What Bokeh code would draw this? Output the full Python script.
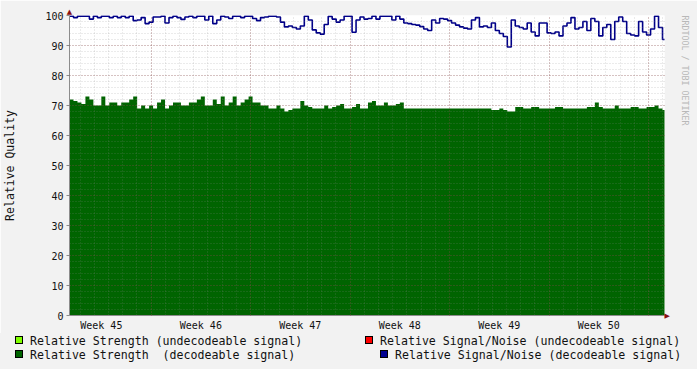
import numpy as np
from bokeh.plotting import figure
from bokeh.layouts import column
from bokeh.models import Range1d, FixedTicker, LinearAxis, Div
from bokeh.embed import file_html
from bokeh.resources import INLINE

# ---------------- data ----------------
SAMPLE_STEP = 0.28          # days per sample
strength = [
    72, 71.5, 71, 70.5, 73, 72, 70, 70, 73, 70,
    71, 71, 70, 71, 71, 72, 73, 69, 70, 69,
    70, 69, 71, 72, 69, 70, 71, 71, 70, 70,
    71, 71, 72, 73, 70, 70, 72, 70.5, 73, 70,
    71, 73, 70, 71, 72, 73, 71, 71, 70, 70,
    69, 69, 70, 69, 68, 68.5, 69, 69, 71.5, 70,
    69.5, 69, 69, 69, 70, 69, 69.5, 70, 70.5, 69,
    69, 69.5, 70.5, 69, 69, 71, 71.5, 70, 70, 71,
    70, 70, 70.5, 71, 69, 69, 69, 69, 69, 69,
    69, 69, 69, 69, 69, 69, 69, 69, 69, 69,
    69, 69, 69, 69, 69, 69, 68.5, 68.5, 69, 68.5,
    68, 68, 69.5, 69.5, 69, 69, 69.5, 69.5, 69, 69,
    69, 69, 69.5, 69.5, 69, 69, 69, 69, 69, 69,
    69.5, 69.5, 71, 69.5, 69, 69, 69, 70, 69, 69,
    69, 69.5, 69.5, 69, 69, 69.5, 69.5, 70, 69, 68.5,
]
snr = [
    99.8, 99.3, 99.8, 99.8, 99.8, 98.8, 99.8, 99.3, 99.8, 99.8,
    99.3, 99.8, 99.3, 99.8, 99.3, 99.8, 98.3, 98.5, 99.3, 97.3,
    97.8, 99.5, 99.5, 99.8, 97.5, 99.3, 99.8, 99.3, 98.7, 99.5,
    99.8, 99.3, 99.8, 99.8, 98.5, 99.8, 97.3, 98.5, 99.8, 99.5,
    99.0, 99.8, 99.8, 99.3, 99.8, 99.8, 99.0, 98.3, 99.3, 99.5,
    99.8, 99.8, 99.5, 97.8, 96.2, 96.5, 96.0, 95.5, 96.5, 99.8,
    98.5, 95.2, 94.2, 93.8, 97.0, 99.7, 98.8, 97.8, 98.5, 99.8,
    99.8, 94.4, 98.5, 99.5, 98.8, 99.0, 99.8, 98.8, 99.8, 99.8,
    99.8, 98.5, 99.8, 98.8, 97.5, 97.3, 97.0, 96.8, 96.3, 95.5,
    95.0, 98.5, 97.5, 99.0, 98.8, 98.3, 97.5, 96.8, 96.2, 95.8,
    95.5, 98.5, 99.3, 96.2, 96.5, 96.0, 97.5, 95.0, 94.0, 93.0,
    89.5, 98.5, 96.5, 96.0, 95.5, 97.5, 94.5, 93.2, 97.5, 97.5,
    94.2, 94.0, 94.5, 93.2, 96.5, 97.5, 99.3, 95.5, 96.0, 98.0,
    95.0, 99.0, 98.0, 93.2, 96.0, 97.0, 92.0, 98.0, 99.5, 98.0,
    94.0, 93.5, 93.2, 98.0, 94.5, 93.5, 95.5, 99.8, 96.0, 92.0,
]
week_labels = ["Week 45", "Week 46", "Week 47", "Week 48", "Week 49", "Week 50"]
week_starts = [-1.26, 5.74, 12.74, 19.74, 26.74, 33.74, 40.74]
y_ticks = list(range(0, 101, 10))
y_minor = list(range(0, 101, 2))

legend_labels = [
    "Relative Strength (undecodeable signal)",
    "Relative Signal/Noise (undecodeable signal)",
    "Relative Strength  (decodeable signal)",
    "Relative Signal/Noise (decodeable signal)",
]
legend_colors = ["#80FF00", "#FF0000", "#006400", "#000090"]
watermark = "RRDTOOL / TOBI OETIKER"

# ---------------- styling ----------------
BACK = "#F2F2F2"
AXIS = "#8C8C8C"
ARROW = "#8B1010"
GREEN = "#006400"
BLUE = "#000088"
MONO = "DejaVu Sans Mono"
DAYS_PER_PX = 0.07
X_MAX = 598 * DAYS_PER_PX

t = np.arange(len(snr)) * SAMPLE_STEP
t_ext = np.append(t, t[-1] + SAMPLE_STEP)
strength_ext = np.append(strength, strength[-1])
snr_ext = np.append(snr, snr[-1])

week_centers = [s + 3.5 for s in week_starts[:len(week_labels)]]
day_lines = [week_starts[1] - 5 + k for k in range(42)]

p = figure(width=697, height=333, output_backend="svg", toolbar_location=None,
           x_range=Range1d(0, X_MAX), y_range=Range1d(0, 100),
           x_axis_location=None, y_axis_location=None,
           min_border_left=67, min_border_right=32, min_border_top=15, min_border_bottom=18)
p.background_fill_color = "white"
p.border_fill_color = BACK
p.outline_line_color = None

p.varea_step(x=t_ext, y1=0, y2=strength_ext, step_mode="after", fill_color=GREEN)
p.step(x=t_ext, y=snr_ext, mode="after", line_color=BLUE, line_width=1.6)

# grids (translucent like rrdtool, drawn over the data)
p.xgrid.ticker = FixedTicker(ticks=week_starts[1:], minor_ticks=day_lines)
p.ygrid.ticker = FixedTicker(ticks=y_ticks, minor_ticks=y_minor)
for g in (p.xgrid, p.ygrid):
    g.grid_line_color = "#821E1E"
    g.grid_line_alpha = 0.4
    g.grid_line_dash = "1 2"
    g.minor_grid_line_color = "#8C8C8C"
    g.minor_grid_line_alpha = 0.35
    g.minor_grid_line_dash = "1 2"
    g.level = "overlay"

# bottom axis
xa = LinearAxis(ticker=FixedTicker(ticks=week_centers),
                major_label_overrides={c: l for c, l in zip(week_centers, week_labels)},
                major_tick_out=0, major_tick_in=0, minor_tick_out=0, minor_tick_in=0,
                major_label_standoff=4)
# left axis
ya = LinearAxis(ticker=FixedTicker(ticks=y_ticks), major_tick_out=3, major_tick_in=0,
                minor_tick_out=0, minor_tick_in=0, major_label_standoff=3,
                axis_label="Relative Quality", axis_label_standoff=25,
                axis_label_text_font_style="normal", axis_label_text_font=MONO,
                axis_label_text_font_size="11.5px", axis_label_text_color="#111111")
for a in (xa, ya):
    a.axis_line_color = AXIS
    a.major_tick_line_color = AXIS
    a.major_label_text_font = MONO
    a.major_label_text_font_size = "10px"
    a.major_label_text_color = "#111111"
p.add_layout(xa, "below")
p.add_layout(ya, "left")


def bare_axis(tick, text, **kw):
    return LinearAxis(ticker=FixedTicker(ticks=[tick]), major_label_overrides={tick: text},
                      axis_line_color=None, major_tick_line_color=None, minor_tick_line_color=None,
                      major_tick_out=0, major_tick_in=0, minor_tick_out=0, minor_tick_in=0, **kw)


# arrow heads at the axis ends
p.add_layout(bare_axis(0, "\u25B2", major_label_standoff=0, major_label_text_font="DejaVu Sans",
                       major_label_text_font_size="7px", major_label_text_color=ARROW,
                       major_label_orientation="horizontal"), "above")
p.add_layout(bare_axis(0, "\u25B6", major_label_standoff=0, major_label_text_font="DejaVu Sans",
                       major_label_text_font_size="7px", major_label_text_color=ARROW,
                       major_label_orientation="horizontal"), "right")
# watermark on the right edge
p.add_layout(bare_axis(100, watermark, major_label_standoff=12, major_label_text_font=MONO,
                       major_label_text_font_size="8.3px", major_label_text_color="#B8B8B8",
                       major_label_orientation=-np.pi / 2), "right")

# ---------------- legend strip (two rows below the chart) ----------------
sq_left = [15, 365, 15, 380]
row_top = [1, 1, 15, 15]
parts = []
for lab, col, sx, ry in zip(legend_labels, legend_colors, sq_left, row_top):
    parts.append(
        f'<span style="position:absolute;left:{sx}px;top:{ry + 2}px;width:8px;height:8px;'
        f'border:1px solid #000;background:{col};"></span>'
        f'<span style="position:absolute;left:{sx + 15}px;top:{ry}px;line-height:14px;'
        f'white-space:pre;">{lab}</span>')
legend_html = (f'<div style="position:relative;width:697px;height:36px;background:{BACK};'
               f"font-family:'{MONO}';font-size:11.6px;color:#111111;\">"
               + "".join(parts) + "</div>")
leg = Div(text=legend_html, width=697, height=36, margin=0,
          styles={"background-color": BACK})

layout = column(p, leg, spacing=0)
open("out.html", "w").write(file_html(layout, INLINE))
